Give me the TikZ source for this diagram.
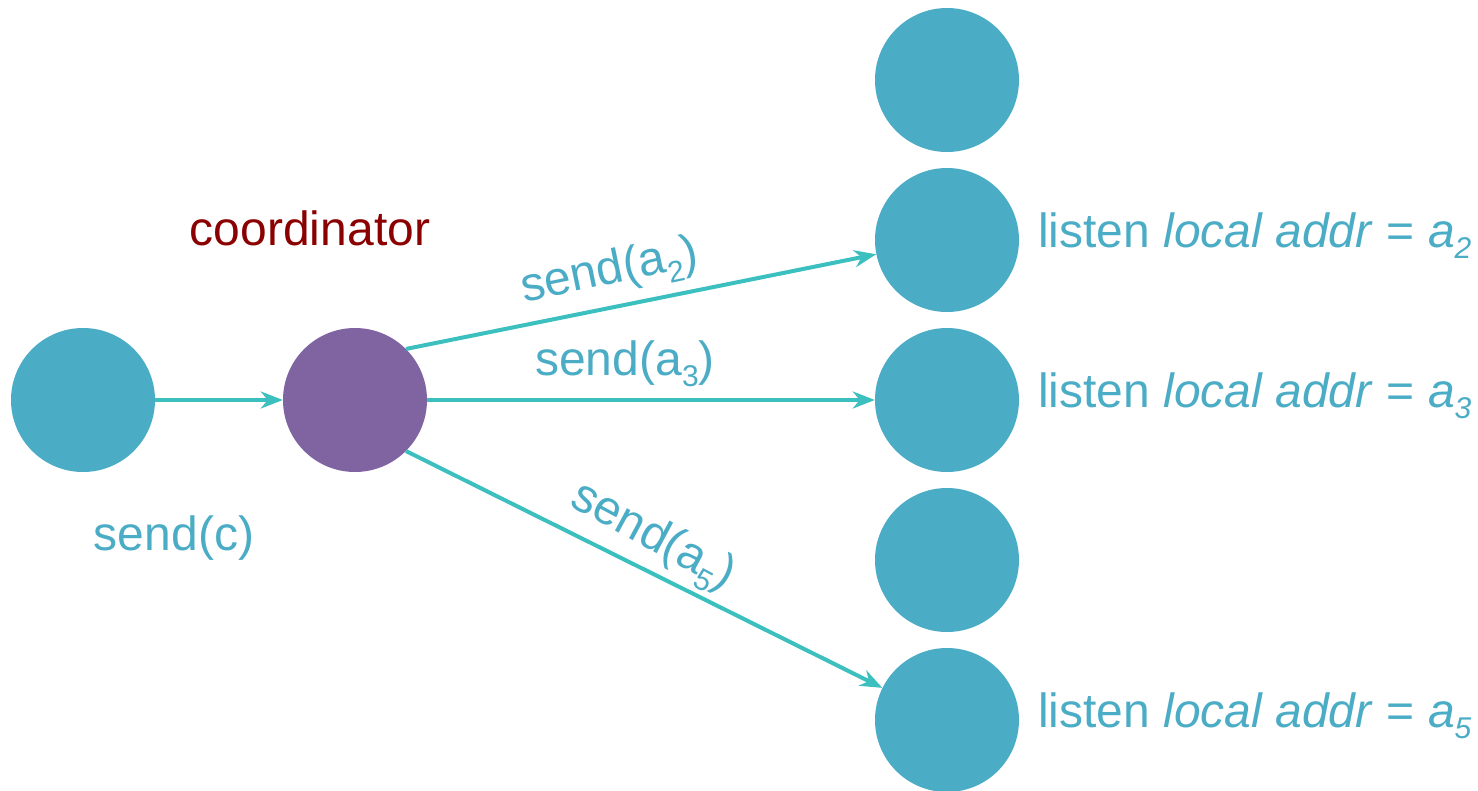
\documentclass[tikz,border=0pt]{standalone}
\usepackage{fontspec}
\setmainfont{Liberation Sans}
\usetikzlibrary{arrows.meta}
\definecolor{nodeblue}{HTML}{4BACC6}
\definecolor{coordpurple}{HTML}{8064A2}
\definecolor{arrowteal}{HTML}{3BBFBF}
\definecolor{darkred}{HTML}{8B0000}
\newcommand\subsc[1]{\raisebox{-0.45ex}{\fontsize{30}{30}\selectfont #1}}
\begin{document}
\begin{tikzpicture}[x=1pt,y=-1pt,
  dot/.style={circle,fill=nodeblue,draw=none,minimum size=144pt,inner sep=0pt},
  coord/.style={circle,fill=coordpurple,draw=none,minimum size=144pt,inner sep=0pt},
  conn/.style={draw=arrowteal,line width=4pt,-{Stealth[length=22pt,width=17pt,inset=7pt]}},
  lbl/.style={text=nodeblue,font=\fontsize{48}{56}\selectfont,inner sep=0pt,anchor=base},
  lst/.style={text=nodeblue,font=\fontsize{48}{56}\selectfont,inner sep=0pt,anchor=base west}]
\useasboundingbox (0,0) rectangle (1478,790);
\node[dot] (s) at (83,400) {};
\node[coord] (c) at (355,400) {};
\node[dot] (r1) at (947,80) {};
\node[dot] (r2) at (947,240) {};
\node[dot] (r3) at (947,400) {};
\node[dot] (r4) at (947,560) {};
\node[dot] (r5) at (947,720) {};
\draw[conn] (s) -- (c);
\draw[conn] (c.{45}) -- (r2);
\draw[conn] (c) -- (r3);
\draw[conn] (c.{-45}) -- (r5);
\node[text=darkred,font=\fontsize{48}{56}\selectfont,inner sep=0pt,anchor=base] (coordlbl) at (310,245) {coordinator};
\node[lbl] (sc) at (174,550) {send(c)};
\node[lbl,rotate=11.7] (sa2) at (612,284) {send(a\subsc{2})};
\node[lbl] (sa3) at (625,375) {send(a\subsc{3})};
\node[lbl,rotate=-28.3] (sa5) at (647,548) {send(a\subsc{5})};
\node[lst] (l2) at (1038,247) {listen \textit{local addr} = \textit{a\subsc{2}}};
\node[lst] (l3) at (1038,407) {listen \textit{local addr} = \textit{a\subsc{3}}};
\node[lst] (l5) at (1038,727) {listen \textit{local addr} = \textit{a\subsc{5}}};
\end{tikzpicture}
\end{document}
